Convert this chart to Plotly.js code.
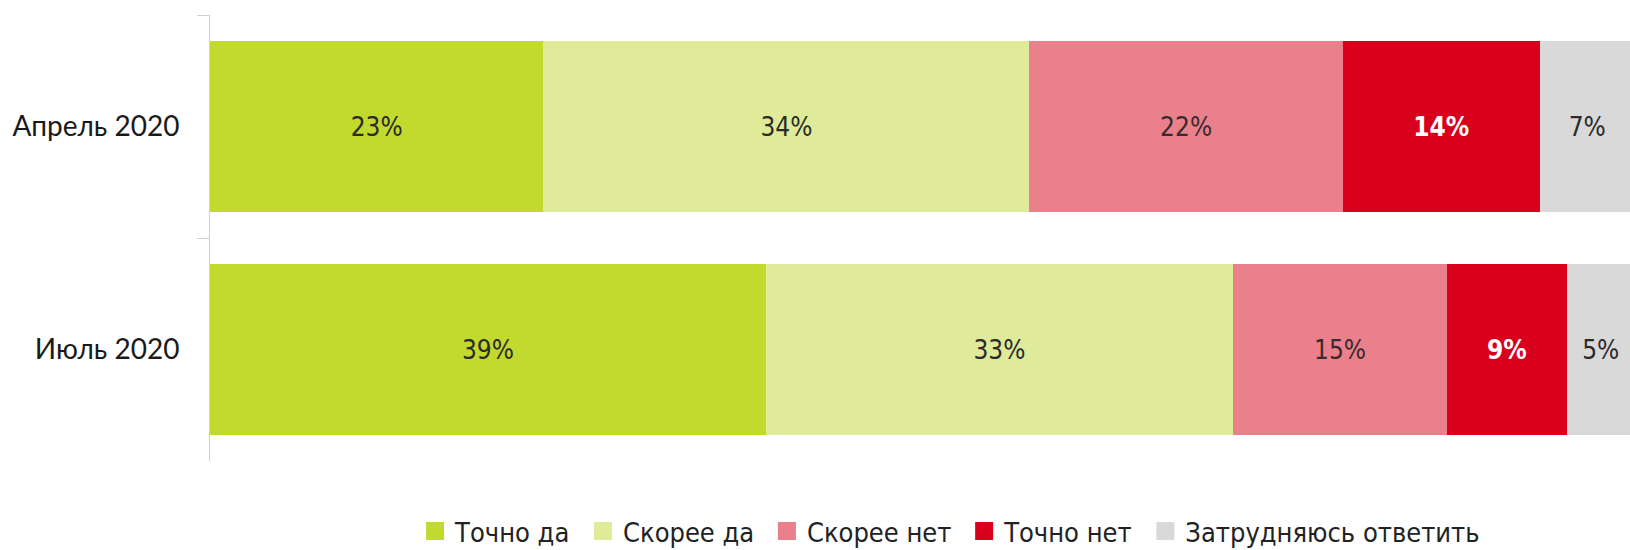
<!DOCTYPE html>
<html>
<head>
<meta charset="utf-8">
<script src="https://cdn.plot.ly/plotly-3.0.1.min.js"></script>
<style>
  html, body { margin: 0; padding: 0; background: #ffffff; }
  #chart { width: 1630px; height: 550px; }
</style>
</head>
<body>
<div id="chart"></div>
<script>
// Categories (top to bottom)
const categories = ['Апрель 2020', 'Июль 2020'];

// Series names
const seriesNames = ['Точно да', 'Скорее да', 'Скорее нет', 'Точно нет', 'Затрудняюсь ответить'];

// Values (%)
const tochnoDa    = [23.4, 39.0];
const skoreeDa    = [34.1, 32.8];
const skoreeNet   = [22.0, 15.0];
const tochnoNet   = [13.8, 8.4];
const zatrudnyayus = [6.7, 4.8];

// Labels as printed on the bars
const tochnoDaLabels    = ['23%', '39%'];
const skoreeDaLabels    = ['34%', '33%'];
const skoreeNetLabels   = ['22%', '15%'];
const tochnoNetLabels   = ['14%', '9%'];
const zatrudnyayusLabels = ['7%', '5%'];

const colors = ['#C2D92E', '#DFEB99', '#EA808C', '#D8001C', '#D9D9D9'];
const textColors = ['#2b2b2b', '#2b2b2b', '#3a2a2e', '#ffffff', '#2b2b2b'];

const values = [tochnoDa, skoreeDa, skoreeNet, tochnoNet, zatrudnyayus];
const labels = [tochnoDaLabels, skoreeDaLabels, skoreeNetLabels, tochnoNetLabels, zatrudnyayusLabels];

const narrow = '"DejaVu Sans Condensed", "Liberation Sans Narrow", sans-serif';

const traces = [];
values.forEach((vals, i) => {
  traces.push({
    type: 'bar',
    orientation: 'h',
    y: categories,
    x: vals,
    name: seriesNames[i],
    legendgroup: 'g' + i,
    showlegend: false,
    marker: { color: colors[i], line: { width: 0 } },
    text: labels[i],
    textposition: 'inside',
    insidetextanchor: 'middle',
    constraintext: 'none',
    textangle: 0,
    textfont: { family: narrow, size: 26, color: textColors[i], weight: i === 3 ? 'bold' : 'normal' },
    hoverinfo: 'name+text'
  });
});
// Legend entries
seriesNames.forEach((nm, i) => {
  traces.push({
    type: 'scatter',
    mode: 'markers',
    x: [null],
    y: [null],
    name: nm + '\u00a0',
    legendgroup: 'g' + i,
    showlegend: true,
    marker: { symbol: 'square', size: 16, color: colors[i], line: { width: 2, color: colors[i] } },
    hoverinfo: 'skip'
  });
});

const layout = {
  width: 1630,
  height: 550,
  paper_bgcolor: '#ffffff',
  plot_bgcolor: '#ffffff',
  margin: { l: 210, r: 0, t: 15, b: 89, pad: 0, autoexpand: false },
  barmode: 'stack',
  bargap: 0.235,
  showlegend: true,
  legend: {
    orientation: 'h',
    x: 0.524,
    xanchor: 'center',
    y: -0.158,
    yanchor: 'middle',
    font: { family: narrow, size: 27, color: '#222222' },
    itemclick: false,
    itemdoubleclick: false,
    traceorder: 'normal'
  },
  xaxis: {
    range: [0, 99.65],
    visible: false,
    fixedrange: true
  },
  yaxis: {
    type: 'category',
    categoryorder: 'array',
    categoryarray: categories,
    autorange: 'reversed',
    showline: true,
    linecolor: '#cfcfd8',
    linewidth: 1,
    ticks: 'outside',
    tickson: 'boundaries',
    ticklen: 12,
    tickcolor: '#cfcfd8',
    tickwidth: 1,
    showgrid: false,
    zeroline: false,
    ticklabelstandoff: 24,
    tickfont: { family: 'Lato, "Open Sans", sans-serif', size: 28, color: '#1a1a1a' },
    fixedrange: true
  }
};

Plotly.newPlot('chart', traces, layout, { displayModeBar: false, staticPlot: true });
</script>
</body>
</html>
